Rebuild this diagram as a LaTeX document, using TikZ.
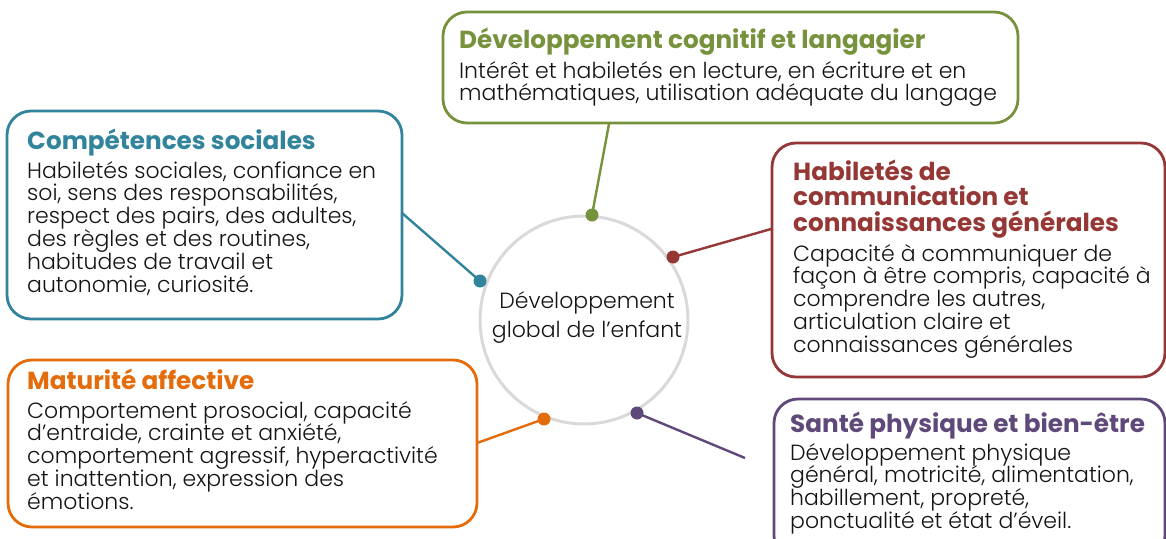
\documentclass[tikz,border=0pt]{standalone}
\usepackage{fontspec}
\setmainfont{Poppins}[UprightFont={* Light}, BoldFont={* Bold}]
\definecolor{cgreen}{RGB}{118,146,60}
\definecolor{cteal}{RGB}{49,132,155}
\definecolor{cred}{RGB}{149,55,53}
\definecolor{corange}{RGB}{228,108,10}
\definecolor{cpurple}{RGB}{95,73,122}
\definecolor{cring}{RGB}{217,217,217}
\definecolor{ctext}{RGB}{20,20,20}
\newcommand{\bodyfnt}{\fontsize{22}{22.8}\selectfont}
\newcommand{\titlefnt}{\fontsize{24.7}{25.5}\selectfont\bfseries}
\newcommand{\hubfnt}{\fontsize{22}{29}\selectfont}
\newcommand{\stk}[1]{\vtop{\lineskiplimit=-100pt\halign{##\hfil\cr#1\crcr}}}
\newcommand{\stkc}[1]{\vtop{\lineskiplimit=-100pt\halign{\hfil##\hfil\cr#1\crcr}}}
\begin{document}
\begin{tikzpicture}[x=1pt,y=-1pt,
  card/.style={line width=2.8pt, rounded corners=24pt, fill=white},
  link/.style={line width=2.4pt},
  dot/.style={circle, inner sep=0pt, minimum size=13pt},
  ttl/.style={anchor=base west, inner sep=0pt, font=\titlefnt},
  txt/.style={anchor=base west, inner sep=0pt, font=\bodyfnt, text=ctext},
]
\useasboundingbox (0,0) rectangle (1166,538);

% hub circle
\node[circle, draw=cring, line width=3pt, minimum size=208pt, inner sep=0pt] (hub) at (584,320) {};
\node[anchor=base, inner sep=0pt, font=\hubfnt, text=ctext] (hubtxt) at (587,308) {\stkc{Développement\cr global de l’enfant}};

% cards
\draw[card, draw=cgreen] (443,12) rectangle (1018,123);
\draw[card, draw=cteal] (7,111) rectangle (402,319);
\draw[card, draw=cred] (772,143) rectangle (1165,377);
\draw[card, draw=corange] (8,360) rectangle (477,527);
\draw[card, draw=cpurple] (774,399) rectangle (1165,560);

% free ends of connectors
\coordinate (gend) at (609,124);
\coordinate (tend) at (402,213);
\coordinate (rend) at (771,229);
\coordinate (oend) at (477,443);
\coordinate (pend) at (745,458);

% dot positions
\coordinate (gpos) at (592,215);
\coordinate (tpos) at (480,281);
\coordinate (rpos) at (673,257);
\coordinate (opos) at (544,419);
\coordinate (ppos) at (637,413);

\draw[link, cgreen] (gpos) -- (gend);
\draw[link, cteal] (tpos) -- (tend);
\draw[link, cred] (rpos) -- (rend);
\draw[link, corange] (opos) -- (oend);
\draw[link, cpurple] (ppos) -- (pend);
\node[dot, fill=cgreen] (gdot) at (gpos) {};
\node[dot, fill=cteal] (tdot) at (tpos) {};
\node[dot, fill=cred] (rdot) at (rpos) {};
\node[dot, fill=corange] (odot) at (opos) {};
\node[dot, fill=cpurple] (pdot) at (ppos) {};

% texts
\node[ttl, text=cgreen] (gttl) at (459,48) {Développement cognitif et langagier};
\node[txt] (gtxt) at (459,78) {\stk{Intérêt et habiletés en lecture, en écriture et en\cr mathématiques, utilisation adéquate du langage}};

\node[ttl, text=cteal] (tttl) at (27,149) {Compétences sociales};
\node[txt] (ttxt) at (27,178) {\stk{Habiletés sociales, confiance en\cr soi, sens des responsabilités,\cr respect des pairs, des adultes,\cr des règles et des routines,\cr habitudes de travail et\cr autonomie, curiosité.}};

\node[ttl, text=cred] (rttl) at (793,180) {\stk{Habiletés de\cr communication et\cr connaissances générales}};
\node[txt] (rtxt) at (793,261) {\stk{Capacité à communiquer de\cr façon à être compris, capacité à\cr comprendre les autres,\cr articulation claire et\cr connaissances générales}};

\node[ttl, text=corange] (ottl) at (27,389) {Maturité affective};
\node[txt] (otxt) at (27,418) {\stk{Comportement prosocial, capacité\cr d'entraide, crainte et anxiété,\cr comportement agressif, hyperactivité\cr et inattention, expression des\cr émotions.}};

\node[ttl, text=cpurple] (pttl) at (790,432) {Santé physique et bien-être};
\node[txt] (ptxt) at (790,460) {\stk{Développement physique\cr général, motricité, alimentation,\cr habillement, propreté,\cr ponctualité et état d'éveil.}};
\end{tikzpicture}
\end{document}
